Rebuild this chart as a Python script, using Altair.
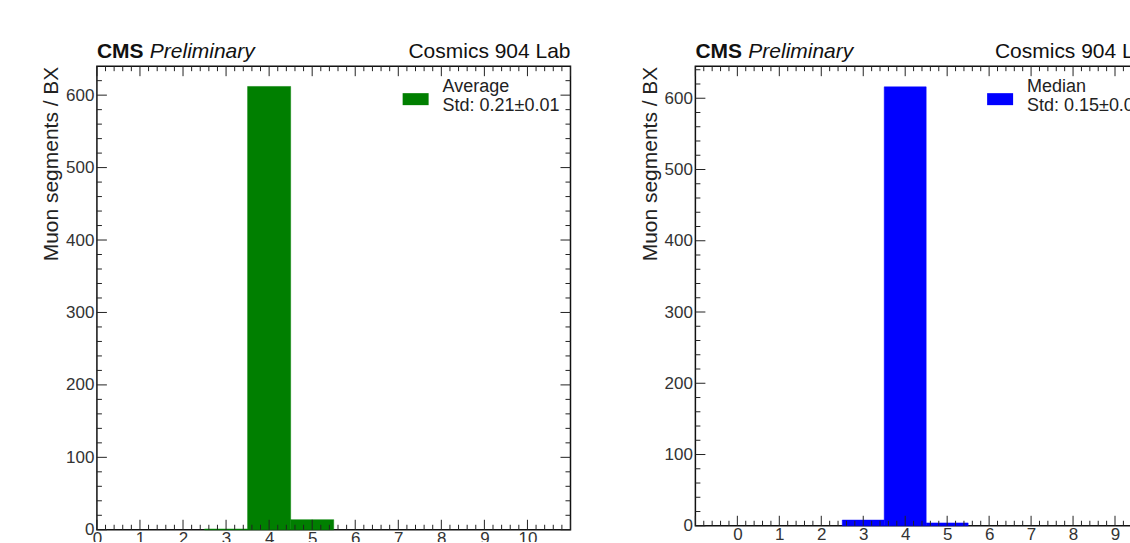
import altair as alt
import pandas as pd
import numpy as np

FONT = "Liberation Sans"

# ---- data ----
avg_bins = [3, 4, 5]
avg_counts = [1, 612, 14]
med_bins = [3, 4, 5]
med_counts = [8, 616, 4]

left_xlabels = [0, 1, 2, 3, 4, 5, 6, 7, 8, 9, 10]
right_xlabels = [0, 1, 2, 3, 4, 5, 6, 7, 8, 9]
y_labels = [0, 100, 200, 300, 400, 500, 600]


def panel(bins, counts, color, name, std, xdom, ydom, xlabels, w, h, leg_x, head_y):
    df = pd.DataFrame({
        "lo": [b - 0.5 for b in bins],
        "hi": [b + 0.5 for b in bins],
        "n": counts,
        "base": [0] * len(bins),
    })
    xs = alt.Scale(domain=xdom, nice=False, zero=False)
    ys = alt.Scale(domain=ydom, nice=False, zero=False)
    xaxis = alt.Axis(
        values=xlabels, title=None, domain=False, ticks=False, grid=False,
        labelFont=FONT, labelFontSize=17, labelColor="#333", labelPadding=1,
        labelFlush=False, labelOverlap=False, format="d")
    yaxis = alt.Axis(
        values=y_labels, title="Muon segments / BX", domain=False, ticks=False,
        grid=False, labelFont=FONT, labelFontSize=17, labelColor="#333",
        labelPadding=3, labelFlush=False, labelOverlap=False,
        titleFont=FONT, titleFontSize=21, titleFontWeight="normal",
        titleColor="#222", titleAnchor="end", titlePadding=4)

    bars = alt.Chart(df).mark_rect(color=color, stroke=color, strokeWidth=0.5).encode(
        x=alt.X("lo:Q", scale=xs, axis=xaxis),
        x2="hi:Q",
        y=alt.Y("n:Q", scale=ys, axis=yaxis),
        y2="base:Q",
    )

    xmaj = [float(v) for v in np.arange(xdom[0], xdom[1] + 0.001, 1.0)]
    xmin = [round(v, 2) for v in np.arange(xdom[0], xdom[1] + 0.001, 0.2)
            if abs(v - round(v)) > 1e-6]
    ymaj = [float(v) for v in np.arange(0, ydom[1], 100)]
    ymin = [float(v) for v in np.arange(0, ydom[1], 20) if v % 100 != 0]

    layers = [bars]
    for vals, L in ((xmaj, 10), (xmin, 5)):
        d = pd.DataFrame({"x": vals})
        layers.append(alt.Chart(d).mark_rule(color="#222", strokeWidth=1).encode(
            x=alt.X("x:Q", scale=xs, axis=xaxis), y=alt.value(h), y2=alt.value(h - L)))
        layers.append(alt.Chart(d).mark_rule(color="#222", strokeWidth=1).encode(
            x=alt.X("x:Q", scale=xs, axis=xaxis), y=alt.value(0), y2=alt.value(L)))
    for vals, L in ((ymaj, 10), (ymin, 5)):
        d = pd.DataFrame({"y": vals})
        layers.append(alt.Chart(d).mark_rule(color="#222", strokeWidth=1).encode(
            y=alt.Y("y:Q", scale=ys, axis=yaxis), x=alt.value(0), x2=alt.value(L)))
        layers.append(alt.Chart(d).mark_rule(color="#222", strokeWidth=1).encode(
            y=alt.Y("y:Q", scale=ys, axis=yaxis), x=alt.value(w), x2=alt.value(w - L)))

    # header texts
    layers.append(alt.Chart(pd.DataFrame({"t": ["CMS"]})).mark_text(
        font=FONT, fontSize=21, fontWeight="bold", align="left", baseline="alphabetic",
        color="#111").encode(text="t:N", x=alt.value(0), y=alt.value(head_y)))
    layers.append(alt.Chart(pd.DataFrame({"t": ["Preliminary"]})).mark_text(
        font=FONT, fontSize=21, fontStyle="italic", align="left", baseline="alphabetic",
        color="#111").encode(text="t:N", x=alt.value(53), y=alt.value(head_y)))
    layers.append(alt.Chart(pd.DataFrame({"t": ["Cosmics 904 Lab"]})).mark_text(
        font=FONT, fontSize=21, align="right", baseline="alphabetic",
        color="#111").encode(text="t:N", x=alt.value(w), y=alt.value(head_y)))

    # legend
    layers.append(alt.Chart(pd.DataFrame({"t": [name]})).mark_rect(
        color=color).encode(x=alt.value(leg_x), x2=alt.value(leg_x + 26),
                            y=alt.value(27), y2=alt.value(39)))
    layers.append(alt.Chart(pd.DataFrame({"t": [name]})).mark_text(
        font=FONT, fontSize=18, align="left", baseline="middle", color="#222").encode(
        text="t:N", x=alt.value(leg_x + 40), y=alt.value(21)))
    layers.append(alt.Chart(pd.DataFrame({"t": [std]})).mark_text(
        font=FONT, fontSize=18, align="left", baseline="middle", color="#222").encode(
        text="t:N", x=alt.value(leg_x + 40), y=alt.value(40)))

    return alt.layer(*layers).properties(width=w, height=h)


left = panel(avg_bins, avg_counts, "#007f00", "Average", "Std: 0.21±0.01",
             [0, 11], [0, 640], left_xlabels, 474, 464, 306, -8)
right = panel(med_bins, med_counts, "#0000ff", "Median", "Std: 0.15±0.01",
              [-1, 10], [0, 645], right_xlabels, 462, 460, 292, -8)

chart = alt.hconcat(left, right, spacing=125, bounds="flush").properties(
    padding={"left": 39, "top": 40, "right": -29, "bottom": -6}
).configure_view(stroke="#111", strokeWidth=1.5)

chart.save("out.html", embed_options={"renderer": "svg", "actions": False})
